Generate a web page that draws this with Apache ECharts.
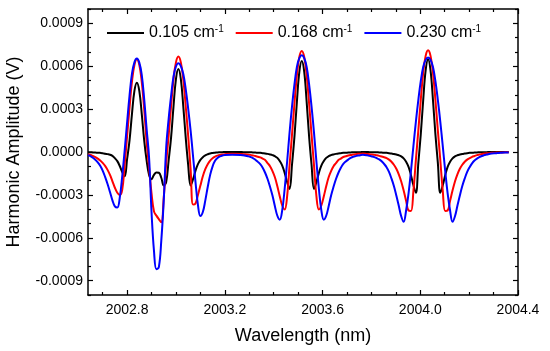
<!DOCTYPE html>
<html><head><meta charset="utf-8">
<script src="https://cdn.jsdelivr.net/npm/echarts@6/dist/echarts.min.js"></script>
<style>html,body{margin:0;padding:0;background:#fff}#c{width:550px;height:351px}</style>
</head><body><div id="c"></div>
<script>
const wavelength = [
2002.64,2002.65,2002.66,2002.67,2002.68,2002.69,2002.70,2002.71,2002.72,2002.73,
2002.74,2002.75,2002.76,2002.77,2002.78,2002.79,2002.80,2002.81,2002.82,2002.83,
2002.84,2002.85,2002.86,2002.87,2002.88,2002.89,2002.90,2002.91,2002.92,2002.93,
2002.94,2002.95,2002.96,2002.97,2002.98,2002.99,2003.00,2003.01,2003.02,2003.03,
2003.04,2003.05,2003.06,2003.07,2003.08,2003.09,2003.10,2003.11,2003.12,2003.13,
2003.14,2003.15,2003.16,2003.17,2003.18,2003.19,2003.20,
2003.23,
2003.265,2003.275,2003.285,2003.295,2003.305,2003.315,2003.325,2003.335,2003.345,2003.355,
2003.365,2003.375,2003.385,2003.395,2003.405,2003.415,2003.425,2003.435,2003.445,2003.455,
2003.465,2003.475,2003.485,2003.495,2003.505,2003.515,2003.525,2003.535,2003.545,2003.555,
2003.565,2003.575,2003.585,2003.595,2003.605,2003.615,2003.625,2003.635,2003.645,2003.655,
2003.665,2003.675,2003.685,2003.695,2003.705,2003.715,2003.725,2003.735,2003.745,2003.755,2003.765,
2003.782,2003.792,2003.802,2003.812,2003.822,2003.832,2003.842,2003.852,2003.862,2003.872,
2003.882,2003.892,2003.902,2003.912,2003.922,2003.932,2003.942,2003.952,2003.962,2003.972,
2003.982,2003.992,2004.002,2004.012,2004.022,2004.032,2004.042,2004.052,2004.062,2004.072,
2004.082,2004.092,2004.102,2004.112,2004.122,2004.132,2004.142,2004.152,2004.162,2004.172,
2004.182,2004.192,2004.202,2004.212,2004.222,2004.232,2004.242,2004.252,2004.262,2004.272,
2004.282,2004.292,2004.302,2004.312,2004.322,2004.332,2004.342,2004.352,2004.362
];
// 0.105 cm-1 (black)
const amp0105 = [
-0.000002,-0.000002,-0.000003,-0.000004,-0.000005,-0.000006,-0.000008,-0.000012,-0.000015,-0.000019,
-0.000027,-0.000043,-0.000064,-0.000098,-0.000140,-0.000170,-0.000050,0.000082,0.000267,0.000427,
0.000485,0.000427,0.000267,0.000082,-0.000060,-0.000160,-0.000190,-0.000160,-0.000143,-0.000145,
-0.000180,-0.000235,-0.000210,-0.000060,0.000100,0.000319,0.000510,0.000580,0.000510,0.000319,
0.000100,-0.000090,-0.000235,-0.000190,-0.000130,-0.000085,-0.000055,-0.000036,-0.000024,-0.000016,
-0.000010,-0.000007,-0.000005,-0.000003,-0.000002,-0.000001,0,
0,
0,-0.000001,-0.000001,-0.000001,-0.000002,-0.000003,-0.000004,-0.000005,-0.000006,-0.000008,
-0.000010,-0.000013,-0.000017,-0.000022,-0.000029,-0.000041,-0.000064,-0.000095,-0.000146,-0.000210,
-0.000258,-0.000089,0.000108,0.000350,0.000560,0.000636,0.000560,0.000350,0.000108,-0.000089,
-0.000258,-0.000210,-0.000146,-0.000095,-0.000064,-0.000041,-0.000029,-0.000022,-0.000017,-0.000013,
-0.000010,-0.000008,-0.000006,-0.000005,-0.000004,-0.000003,-0.000002,-0.000001,-0.000001,-0.000001,0,
0,-0.000001,-0.000001,-0.000001,-0.000002,-0.000003,-0.000004,-0.000005,-0.000006,-0.000008,
-0.000011,-0.000014,-0.000018,-0.000023,-0.000031,-0.000045,-0.000068,-0.000104,-0.000162,-0.000233,
-0.000285,-0.000078,0.000123,0.000363,0.000570,0.000648,0.000570,0.000363,0.000123,-0.000078,
-0.000285,-0.000233,-0.000162,-0.000104,-0.000068,-0.000045,-0.000031,-0.000023,-0.000018,-0.000014,
-0.000011,-0.000008,-0.000006,-0.000005,-0.000004,-0.000003,-0.000002,-0.000001,-0.000001,-0.000001,
0,0,0,0,0,0,0,0,0
];
// 0.168 cm-1 (red)
const amp0168 = [
-0.000016,-0.000021,-0.000028,-0.000036,-0.000046,-0.000059,-0.000076,-0.000097,-0.000125,-0.000160,
-0.000205,-0.000250,-0.000285,-0.000300,-0.000265,-0.000090,0.000110,0.000310,0.000493,0.000609,
0.000648,0.000609,0.000490,0.000300,0.000070,-0.000110,-0.000290,-0.000415,-0.000445,-0.000470,
-0.000492,-0.000320,-0.000080,0.000113,0.000320,0.000507,0.000627,0.000667,0.000627,0.000507,
0.000320,0.000113,-0.000120,-0.000368,-0.000360,-0.000300,-0.000235,-0.000170,-0.000120,-0.000085,
-0.000060,-0.000043,-0.000032,-0.000025,-0.000020,-0.000017,-0.000015,
-0.000013,
-0.000014,-0.000015,-0.000016,-0.000018,-0.000020,-0.000024,-0.000028,-0.000033,-0.000038,-0.000047,
-0.000056,-0.000078,-0.000099,-0.000134,-0.000177,-0.000240,-0.000311,-0.000374,-0.000402,-0.000311,
-0.000092,0.000120,0.000339,0.000537,0.000664,0.000706,0.000664,0.000537,0.000339,0.000120,
-0.000092,-0.000311,-0.000402,-0.000374,-0.000311,-0.000240,-0.000177,-0.000134,-0.000099,-0.000078,
-0.000056,-0.000046,-0.000035,-0.000030,-0.000025,-0.000021,-0.000018,-0.000015,-0.000013,-0.000012,-0.000011,
-0.000014,-0.000015,-0.000017,-0.000020,-0.000023,-0.000027,-0.000032,-0.000037,-0.000043,-0.000053,
-0.000068,-0.000089,-0.000117,-0.000156,-0.000206,-0.000270,-0.000341,-0.000409,-0.000412,-0.000270,
-0.000057,0.000149,0.000363,0.000555,0.000672,0.000711,0.000672,0.000555,0.000363,0.000149,
-0.000057,-0.000270,-0.000412,-0.000409,-0.000341,-0.000270,-0.000206,-0.000156,-0.000117,-0.000089,
-0.000068,-0.000053,-0.000043,-0.000034,-0.000028,-0.000022,-0.000018,-0.000014,-0.000011,-0.000009,
-0.000008,-0.000006,-0.000005,-0.000004,-0.000004,-0.000003,-0.000003,-0.000002,-0.000002
];
// 0.230 cm-1 (blue)
const amp0230 = [
-0.000022,-0.000029,-0.000040,-0.000054,-0.000072,-0.000096,-0.000130,-0.000174,-0.000224,-0.000280,
-0.000338,-0.000380,-0.000388,-0.000320,-0.000170,0.000010,0.000205,0.000395,0.000548,0.000627,
0.000653,0.000625,0.000540,0.000370,0.000160,-0.000040,-0.000420,-0.000690,-0.000820,-0.000805,
-0.000620,-0.000340,0.000030,0.000230,0.000390,0.000527,0.000598,0.000620,0.000601,0.000546,
0.000440,0.000304,0.000150,-0.000030,-0.000210,-0.000370,-0.000448,-0.000420,-0.000340,-0.000245,
-0.000160,-0.000100,-0.000062,-0.000042,-0.000031,-0.000025,-0.000021,
-0.000020,
-0.000021,-0.000023,-0.000026,-0.000030,-0.000035,-0.000042,-0.000054,-0.000069,-0.000085,-0.000110,
-0.000145,-0.000189,-0.000243,-0.000304,-0.000379,-0.000446,-0.000473,-0.000406,-0.000257,-0.000068,
0.000135,0.000318,0.000473,0.000595,0.000656,0.000676,0.000656,0.000595,0.000473,0.000318,
0.000135,-0.000068,-0.000257,-0.000406,-0.000473,-0.000446,-0.000379,-0.000304,-0.000243,-0.000189,
-0.000145,-0.000110,-0.000083,-0.000066,-0.000053,-0.000041,-0.000034,-0.000029,-0.000025,-0.000022,-0.000020,
-0.000023,-0.000027,-0.000031,-0.000036,-0.000043,-0.000052,-0.000065,-0.000084,-0.000106,-0.000139,
-0.000185,-0.000238,-0.000304,-0.000376,-0.000449,-0.000488,-0.000409,-0.000290,-0.000132,0.000043,
0.000211,0.000363,0.000495,0.000594,0.000644,0.000660,0.000644,0.000594,0.000495,0.000363,
0.000211,0.000043,-0.000132,-0.000290,-0.000409,-0.000488,-0.000449,-0.000376,-0.000304,-0.000238,
-0.000185,-0.000139,-0.000106,-0.000079,-0.000059,-0.000046,-0.000036,-0.000028,-0.000022,-0.000017,
-0.000014,-0.000011,-0.000009,-0.000008,-0.000007,-0.000005,-0.000004,-0.000004,-0.000003
];
const seriesNames = ['0.105', '0.168', '0.230'];
const seriesColors = ['#000000', '#ff0000', '#0000ff'];
const xMajorTicks = [2002.8, 2003.2, 2003.6, 2004.0, 2004.4];
const xMinorTicks = [2002.7, 2002.9, 2003.0, 2003.1, 2003.3, 2003.4, 2003.5, 2003.7, 2003.8, 2003.9, 2004.1, 2004.2, 2004.3];
const yMajorTicks = [-0.0009, -0.0006, -0.0003, 0, 0.0003, 0.0006, 0.0009];
const yMinorTicks = [-0.001, -0.0008, -0.0007, -0.0005, -0.0004, -0.0002, -0.0001, 0.0001, 0.0002, 0.0004, 0.0005, 0.0007, 0.0008, 0.001];

const FONT = '"Liberation Sans", Arial, Helvetica, sans-serif';
const X_MIN = 2002.64, X_MAX = 2004.4, Y_MIN = -0.001, Y_MAX = 0.001;

function makeAxis(dim, position, ticks, tickLen, withLine, withLabel, extra) {
  const ax = {
    type: 'value', position: position,
    min: dim === 'x' ? X_MIN : Y_MIN, max: dim === 'x' ? X_MAX : Y_MAX,
    axisLine: { show: withLine, onZero: false, lineStyle: { color: '#000', width: 1.5 } },
    axisTick: { show: true, inside: true, length: tickLen, customValues: ticks, lineStyle: { color: '#000', width: 1.2 } },
    axisLabel: { show: withLabel },
    splitLine: { show: false }
  };
  if (withLabel) {
    ax.axisLabel = {
      show: true, customValues: ticks, color: '#000', fontSize: 14, fontFamily: FONT,
      margin: dim === 'x' ? 8 : 5,
      formatter: v => dim === 'x' ? Number(v).toFixed(1) : Number(v).toFixed(4)
    };
  }
  return Object.assign(ax, extra || {});
}

const chart = echarts.init(document.getElementById('c'), null, { renderer: 'canvas' });
chart.setOption({
  animation: false,
  backgroundColor: '#fff',
  grid: { left: 88, right: 32, top: 9, bottom: 56, containLabel: false, outerBoundsMode: 'none' },
  legend: {
    left: 102, top: 19, icon: 'rect', itemWidth: 37, itemHeight: 2, itemGap: 12,
    data: seriesNames,
    formatter: n => '{n|' + n + ' cm}{s|-1}',
    textStyle: {
      color: '#000', fontFamily: FONT, fontSize: 16,
      rich: {
        n: { fontSize: 16, fontFamily: FONT, color: '#000', lineHeight: 18 },
        s: { fontSize: 10, fontFamily: FONT, color: '#000', verticalAlign: 'top', lineHeight: 10 }
      }
    }
  },
  xAxis: [
    makeAxis('x', 'bottom', xMajorTicks, 5, true, true, {
      name: 'Wavelength (nm)', nameLocation: 'middle', nameGap: 32,
      nameTextStyle: { color: '#000', fontSize: 18, fontFamily: FONT }
    }),
    makeAxis('x', 'bottom', xMinorTicks, 3, false, false),
    makeAxis('x', 'top', xMajorTicks, 5, true, false),
    makeAxis('x', 'top', xMinorTicks, 3, false, false)
  ],
  yAxis: [
    makeAxis('y', 'left', yMajorTicks, 5, true, true, {
      name: 'Harmonic Amplitude (V)', nameLocation: 'middle', nameGap: 65,
      nameTextStyle: { color: '#000', fontSize: 18, fontFamily: FONT }
    }),
    makeAxis('y', 'left', yMinorTicks, 3, false, false),
    makeAxis('y', 'right', yMajorTicks, 5, true, false),
    makeAxis('y', 'right', yMinorTicks, 3, false, false)
  ],
  series: [amp0105, amp0168, amp0230].map((arr, i) => ({
    type: 'line', name: seriesNames[i], xAxisIndex: 0, yAxisIndex: 0,
    data: wavelength.map((x, j) => [x, arr[j]]),
    symbol: 'none', showSymbol: false, smooth: 0.4, clip: true,
    lineStyle: { color: seriesColors[i], width: 2 },
    itemStyle: { color: seriesColors[i] },
    emphasis: { disabled: true }
  }))
});
</script>
</body></html>
